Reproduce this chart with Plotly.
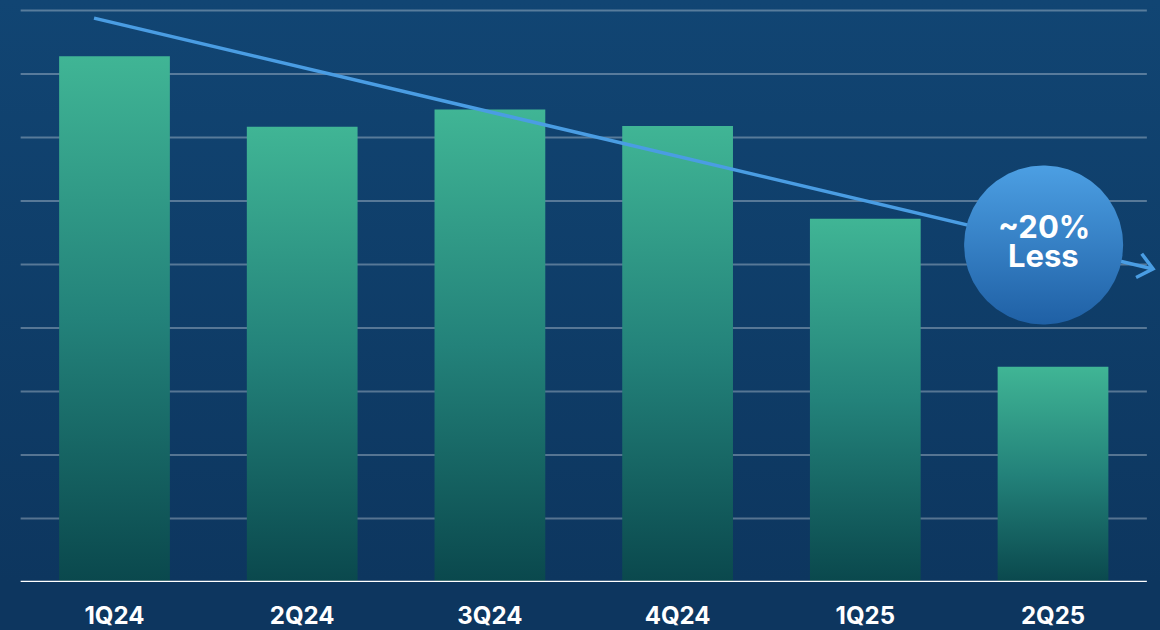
import numpy as np
import plotly.graph_objects as go

# ---- data ----
categories = ["1Q24", "2Q24", "3Q24", "4Q24", "1Q25", "2Q25"]
values = [8.28, 7.17, 7.44, 7.18, 5.72, 3.39]
grid_levels = [1, 2, 3, 4, 5, 6, 7, 8, 9]
badge_lines = ["~20%", "Less"]

# ---- layout geometry ----
W, H = 1160, 630
M_B = 48
X_RANGE = [-0.61, 5.57]
Y_RANGE = [0, 9.165]
PX_X = W / (X_RANGE[1] - X_RANGE[0])          # pixels per x unit
PX_Y = (H - M_B) / (Y_RANGE[1] - Y_RANGE[0])  # pixels per y unit
BAR_W = 0.59

BG_BOTTOM = "#0d365f"
BG_TOP = "#114573"
FONT = "Inter"

fig = go.Figure()

# background gradient over the plotting area
fig.add_trace(go.Scatter(
    x=[X_RANGE[0], X_RANGE[1], X_RANGE[1], X_RANGE[0], X_RANGE[0]],
    y=[Y_RANGE[0], Y_RANGE[0], Y_RANGE[1], Y_RANGE[1], Y_RANGE[0]],
    mode="lines", line=dict(width=0), fill="toself",
    fillgradient=dict(type="vertical", colorscale=[[0, BG_BOTTOM], [1, BG_TOP]]),
    hoverinfo="skip", showlegend=False,
))

# horizontal gridlines (drawn as a trace so they sit above the background)
gx, gy = [], []
for g in grid_levels:
    gx += [-0.5, 5.5, None]
    gy += [g, g, None]
fig.add_trace(go.Scatter(
    x=gx, y=gy, mode="lines",
    line=dict(color="rgba(255,255,255,0.3)", width=2),
    hoverinfo="skip", showlegend=False,
))

# bars with vertical gradient (scatter polygons so a gradient fill can be used)
bar_scale = [[0, "#0a484d"], [0.5, "#23827a"], [1, "#40b595"]]
for i, (cat, v) in enumerate(zip(categories, values)):
    x0, x1 = i - BAR_W / 2, i + BAR_W / 2
    fig.add_trace(go.Scatter(
        x=[x0, x1, x1, x0, x0], y=[0, 0, v, v, 0],
        mode="lines", line=dict(width=0), fill="toself",
        fillgradient=dict(type="vertical", colorscale=bar_scale, start=0, stop=v),
        hoverinfo="text", hoveron="fills", text=f"{cat}: {v}",
        showlegend=False,
    ))

# trend arrow (decorative)
arrow_start = (-0.109, 8.88)
arrow_end = (5.533, 4.93)
fig.add_trace(go.Scatter(
    x=[arrow_start[0], arrow_end[0]], y=[arrow_start[1], arrow_end[1]],
    mode="lines", line=dict(color="#4a9de3", width=3.5),
    hoverinfo="skip", showlegend=False, cliponaxis=False,
))
# chevron head computed in pixel space
dx = (arrow_start[0] - arrow_end[0]) * PX_X
dy = (arrow_start[1] - arrow_end[1]) * PX_Y
n = np.hypot(dx, dy)
dx, dy = dx / n, dy / n
L = 19
arms = []
for ang in (np.radians(40), np.radians(-40)):
    rx = dx * np.cos(ang) - dy * np.sin(ang)
    ry = dx * np.sin(ang) + dy * np.cos(ang)
    arms.append((arrow_end[0] + rx * L / PX_X, arrow_end[1] + ry * L / PX_Y))
fig.add_trace(go.Scatter(
    x=[arms[0][0], arrow_end[0], arms[1][0]],
    y=[arms[0][1], arrow_end[1], arms[1][1]],
    mode="lines", line=dict(color="#4a9de3", width=3.5),
    hoverinfo="skip", showlegend=False, cliponaxis=False,
))

# badge circle with gradient
cx, cy, r_px = 4.95, 5.307, 79.5
t = np.linspace(0, 2 * np.pi, 240)
fig.add_trace(go.Scatter(
    x=cx + np.cos(t) * r_px / PX_X, y=cy + np.sin(t) * r_px / PX_Y,
    mode="lines", line=dict(width=0), fill="toself",
    fillgradient=dict(type="vertical", colorscale=[[0, "#1f60a5"], [1, "#4c9fe3"]]),
    hoverinfo="skip", showlegend=False,
))

annotations = [
    dict(x=cx, y=5.606, text=badge_lines[0], showarrow=False,
         font=dict(family=FONT, size=31, color="white", weight=700)),
    dict(x=cx, y=5.134, text=badge_lines[1], showarrow=False,
         font=dict(family=FONT, size=31, color="white", weight=700)),
]

shapes = [dict(type="line", xref="x", yref="y", x0=-0.5, x1=5.5, y0=0, y1=0,
               line=dict(color="white", width=2.5), layer="above")]

fig.update_layout(
    width=W, height=H,
    margin=dict(l=0, r=0, t=0, b=M_B, pad=0),
    paper_bgcolor=BG_BOTTOM, plot_bgcolor=BG_BOTTOM,
    showlegend=False,
    shapes=shapes, annotations=annotations,
    xaxis=dict(range=X_RANGE, tickvals=list(range(len(categories))), ticktext=categories,
               showgrid=False, zeroline=False, showline=False, ticks="",
               ticklabelstandoff=17,
               tickfont=dict(family=FONT, size=24, color="white", weight=700),
               fixedrange=True),
    yaxis=dict(range=Y_RANGE, showgrid=False, zeroline=False, showticklabels=False,
               fixedrange=True),
)

fig.write_html(
    "out.html",
    config={"displayModeBar": False},
    post_script="document.body.style.margin='0';document.body.style.padding='0';",
)
